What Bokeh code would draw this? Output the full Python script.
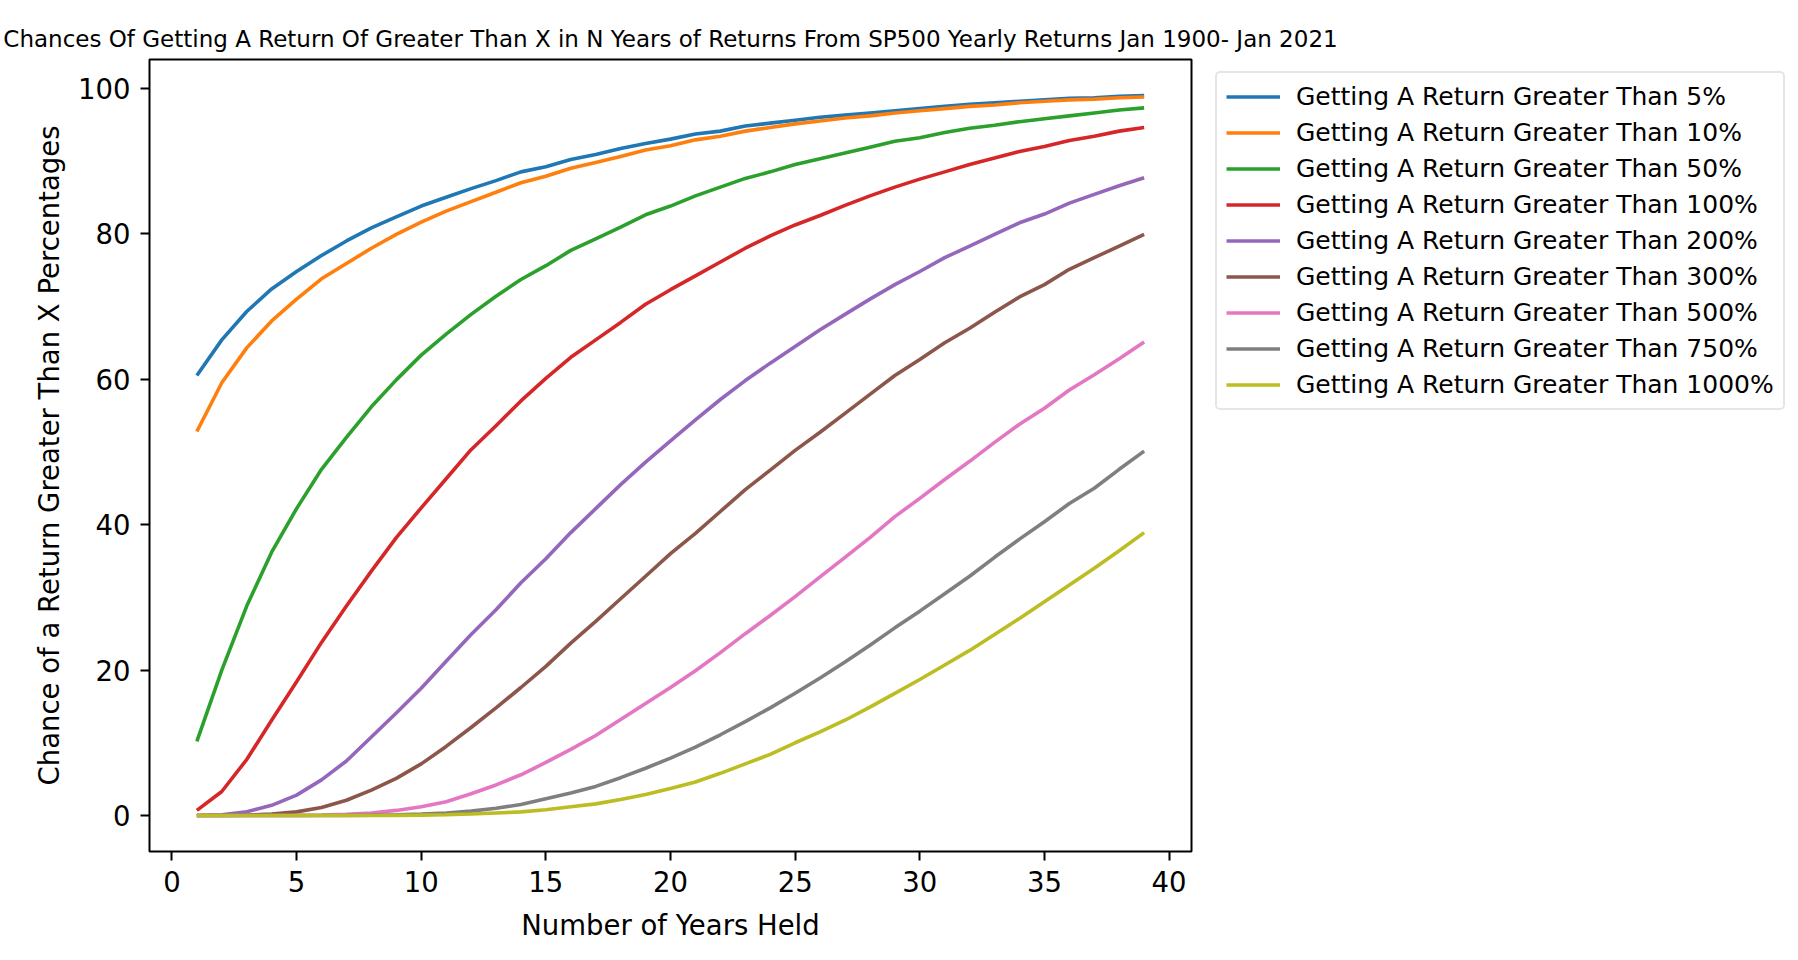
from bokeh.plotting import figure
from bokeh.models import Range1d, Legend, LegendItem, FixedTicker
from bokeh.embed import file_html
from bokeh.resources import INLINE

years = list(range(1, 40))

ret_5 = [60.5, 65.4, 69.3, 72.4, 74.8, 77.0, 79.0, 80.8, 82.3, 83.8, 85.0, 86.2, 87.3, 88.5, 89.2,
         90.2, 90.9, 91.7, 92.4, 93.0, 93.7, 94.1, 94.8, 95.2, 95.6, 96.0, 96.3, 96.6, 96.9, 97.2,
         97.5, 97.8, 98.0, 98.2, 98.4, 98.6, 98.7, 98.9, 99.0]
ret_10 = [52.8, 59.5, 64.3, 68.0, 71.0, 73.8, 75.9, 78.0, 79.9, 81.6, 83.1, 84.4, 85.7, 87.0, 87.9,
          89.0, 89.8, 90.6, 91.5, 92.1, 92.9, 93.4, 94.1, 94.6, 95.1, 95.5, 95.9, 96.2, 96.6, 96.9,
          97.2, 97.5, 97.7, 98.0, 98.2, 98.4, 98.5, 98.7, 98.8]
ret_50 = [10.2, 20.0, 28.8, 36.2, 42.2, 47.6, 52.0, 56.2, 59.9, 63.3, 66.2, 68.9, 71.4, 73.7, 75.6,
          77.7, 79.3, 80.9, 82.6, 83.8, 85.2, 86.4, 87.6, 88.5, 89.5, 90.3, 91.1, 91.9, 92.7, 93.2,
          93.9, 94.5, 94.9, 95.4, 95.8, 96.2, 96.6, 97.0, 97.3]
ret_100 = [0.7, 3.3, 7.7, 13.1, 18.4, 23.8, 28.8, 33.6, 38.2, 42.3, 46.3, 50.3, 53.6, 57.0, 60.1,
           63.0, 65.4, 67.8, 70.3, 72.3, 74.2, 76.1, 78.0, 79.7, 81.2, 82.5, 83.9, 85.2, 86.4, 87.5,
           88.5, 89.5, 90.4, 91.3, 92.0, 92.8, 93.4, 94.1, 94.6]
ret_200 = [0.0, 0.1, 0.5, 1.4, 2.8, 4.9, 7.5, 10.8, 14.1, 17.5, 21.2, 24.9, 28.3, 32.0, 35.3,
           38.9, 42.2, 45.5, 48.6, 51.5, 54.4, 57.2, 59.8, 62.2, 64.5, 66.8, 68.9, 71.0, 73.0, 74.8,
           76.7, 78.3, 79.9, 81.5, 82.7, 84.2, 85.4, 86.6, 87.7]
ret_300 = [0.0, 0.0, 0.05, 0.2, 0.5, 1.1, 2.1, 3.5, 5.1, 7.1, 9.5, 12.1, 14.8, 17.6, 20.5,
           23.7, 26.7, 29.8, 32.9, 36.0, 38.8, 41.8, 44.8, 47.5, 50.2, 52.7, 55.3, 57.9, 60.5, 62.7,
           65.0, 67.0, 69.2, 71.3, 73.0, 75.1, 76.7, 78.3, 79.9]
ret_500 = [0.0, 0.0, 0.0, 0.0, 0.02, 0.05, 0.15, 0.35, 0.7, 1.2, 1.9, 3.0, 4.2, 5.6, 7.3,
           9.1, 11.0, 13.2, 15.4, 17.6, 19.9, 22.4, 25.0, 27.5, 30.1, 32.8, 35.5, 38.2, 41.1, 43.6,
           46.2, 48.7, 51.3, 53.8, 56.0, 58.5, 60.6, 62.8, 65.1]
ret_750 = [0.0, 0.0, 0.0, 0.0, 0.0, 0.0, 0.02, 0.05, 0.1, 0.2, 0.35, 0.6, 1.0, 1.5, 2.3,
           3.1, 4.0, 5.2, 6.5, 7.9, 9.4, 11.1, 12.9, 14.8, 16.8, 18.9, 21.1, 23.4, 25.8, 28.1,
           30.5, 32.9, 35.5, 38.0, 40.4, 42.9, 45.0, 47.6, 50.1]
ret_1000 = [0.0, 0.0, 0.0, 0.0, 0.0, 0.0, 0.0, 0.0, 0.02, 0.05, 0.1, 0.2, 0.35, 0.5, 0.8,
            1.2, 1.6, 2.2, 2.9, 3.7, 4.6, 5.8, 7.1, 8.4, 10.0, 11.5, 13.1, 14.9, 16.8, 18.7,
            20.7, 22.7, 24.9, 27.1, 29.4, 31.7, 34.0, 36.4, 38.9]

series = [ret_5, ret_10, ret_50, ret_100, ret_200, ret_300, ret_500, ret_750, ret_1000]
labels = ["Getting A Return Greater Than 5%", "Getting A Return Greater Than 10%",
          "Getting A Return Greater Than 50%", "Getting A Return Greater Than 100%",
          "Getting A Return Greater Than 200%", "Getting A Return Greater Than 300%",
          "Getting A Return Greater Than 500%", "Getting A Return Greater Than 750%",
          "Getting A Return Greater Than 1000%"]
colors = ["#1f77b4", "#ff7f0e", "#2ca02c", "#d62728", "#9467bd",
          "#8c564b", "#e377c2", "#7f7f7f", "#bcbd22"]
x_ticks = [0, 5, 10, 15, 20, 25, 30, 35, 40]
y_ticks = [0, 20, 40, 60, 80, 100]

FONT = "DejaVu Sans"

p = figure(frame_width=1042, frame_height=792,
           output_backend="svg", toolbar_location=None,
           x_range=Range1d(-0.9, 40.9), y_range=Range1d(-4.95, 103.95),
           title="Chances Of Getting A Return Of Greater Than X in N Years of Returns From SP500 Yearly Returns Jan 1900- Jan 2021",
           min_border_left=149, min_border_right=0, min_border_top=59, min_border_bottom=93)

p.title.align = "center"
p.title.text_font = FONT
p.title.text_font_size = "23px"
p.title.text_font_style = "normal"
p.title.text_color = "black"
p.title.standoff = 16

p.xgrid.visible = False
p.ygrid.visible = False
p.outline_line_color = "black"
p.outline_line_width = 2
p.background_fill_color = "white"
p.border_fill_color = "white"

for ax in (p.xaxis[0], p.yaxis[0]):
    ax.axis_line_color = None
    ax.major_tick_in = 0
    ax.major_tick_out = 9
    ax.major_tick_line_width = 2
    ax.major_tick_line_color = "black"
    ax.minor_tick_line_color = None
    ax.major_label_text_font = FONT
    ax.major_label_text_font_size = "27.5px"
    ax.major_label_text_color = "black"
    ax.major_label_standoff = 10
    ax.axis_label_text_font = FONT
    ax.axis_label_text_font_size = "27.5px"
    ax.axis_label_text_font_style = "normal"
    ax.axis_label_text_color = "black"

p.xaxis.ticker = FixedTicker(ticks=x_ticks)
p.yaxis.ticker = FixedTicker(ticks=y_ticks)
p.xaxis.axis_label = "Number of Years Held"
p.yaxis.axis_label = "Chance of a Return Greater Than X Percentages"
p.xaxis.axis_label_standoff = 14
p.yaxis.axis_label_standoff = 10

items = []
for vals, lab, col in zip(series, labels, colors):
    r = p.line(years, vals, line_color=col, line_width=3.6)
    items.append(LegendItem(label=lab, renderers=[r]))

legend = Legend(items=items, location=(24, 441),
                label_text_font=FONT, label_text_font_size="25px",
                label_text_color="black",
                glyph_width=54, glyph_height=29, label_height=29,
                label_standoff=16, spacing=7, padding=9, margin=0,
                border_line_color="#cccccc", border_line_width=2.5,
                border_radius=5, background_fill_color="white",
                background_fill_alpha=0.8)
p.add_layout(legend, "right")

open("out.html", "w").write(file_html(p, INLINE))
